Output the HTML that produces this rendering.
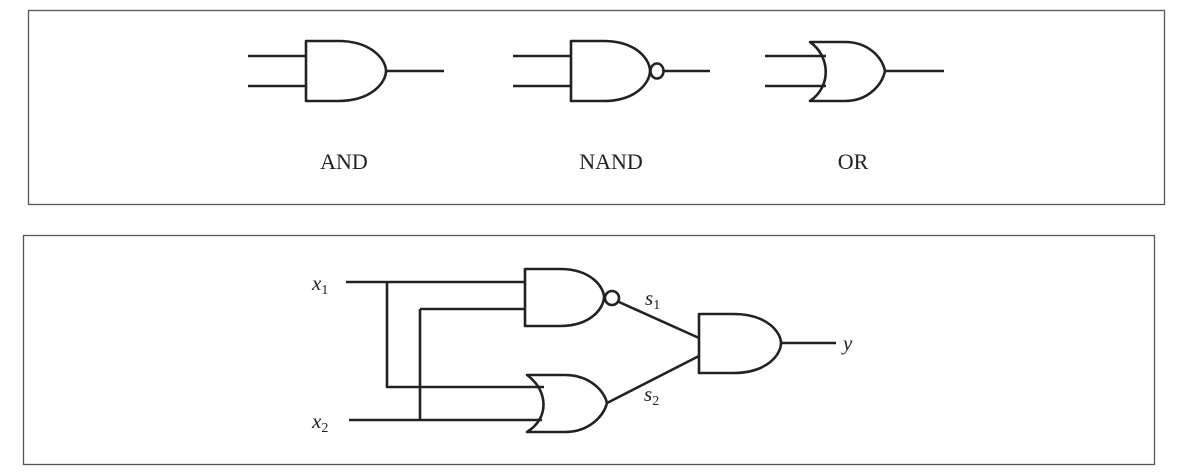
<!DOCTYPE html>
<html><head><style>
html,body{margin:0;padding:0;background:#fff;}
svg{display:block;}
text{font-family:"Liberation Serif",serif;fill:#222;}
</style></head><body>
<svg width="1185" height="472" viewBox="0 0 1185 472" xmlns="http://www.w3.org/2000/svg">
<g fill="none" stroke="#555" stroke-width="1.3">
<rect x="28.5" y="10.5" width="1136" height="194"/>
<rect x="23.5" y="235.5" width="1131" height="229"/>
</g>
<g fill="none" stroke="#222" stroke-width="2.6" stroke-linejoin="round">
<path d="M248,56 H306 M248,86 H306 M386,71 H444"/>
<path d="M306,41 L338,41 C372,41 386,60 386,71 C386,82 372,101 338,101 L306,101 Z"/>
<path d="M513,56 H571 M513,86 H571 M664,71 H710"/>
<path d="M571,41 L603,41 C637,41 650,60 650,71 C650,82 637,101 603,101 L571,101 Z"/>
<ellipse cx="657" cy="71" rx="6.5" ry="7.5"/>
<path d="M765,56 H826 M765,86 H826 M885,71 H944"/>
<path d="M810,42 C830,56 832,86 810,101 L845,101 C868,101 882,85 885,71 C882,57 868,42 845,42 Z"/>
<path d="M346,282 H525 M387,282 V387 H544 M420,309 H525 M420,309 V420 M349,420 H542"/>
<path d="M525,269 L560,269 C592,269 604,288 604,297 C604,307 592,326 560,326 L525,326 Z"/>
<ellipse cx="612" cy="298" rx="7" ry="7"/>
<path d="M527,375 C548,390 550,418 527,432 L565,432 C590,432 604,415 607,403 C604,391 590,375 565,375 Z"/>
<path d="M619,302 L699,338 M607,403 L699,356"/>
<path d="M699,314 L733,314 C768,314 781,333 781,343 C781,354 768,373 733,373 L699,373 Z"/>
<path d="M781,343 H836"/>
</g>
<g font-size="22" text-anchor="middle">
<text x="344" y="169">AND</text>
<text x="611" y="169">NAND</text>
<text x="853" y="169">OR</text>
</g>
<g font-style="italic" font-size="21">
<text x="312" y="290">x<tspan font-size="14" font-style="normal" dy="4">1</tspan></text>
<text x="312" y="428">x<tspan font-size="14" font-style="normal" dy="4">2</tspan></text>
<text x="645" y="305">s<tspan font-size="14" font-style="normal" dy="4">1</tspan></text>
<text x="644" y="401">s<tspan font-size="14" font-style="normal" dy="4">2</tspan></text>
<text x="843" y="350">y</text>
</g>
</svg>
</body></html>
